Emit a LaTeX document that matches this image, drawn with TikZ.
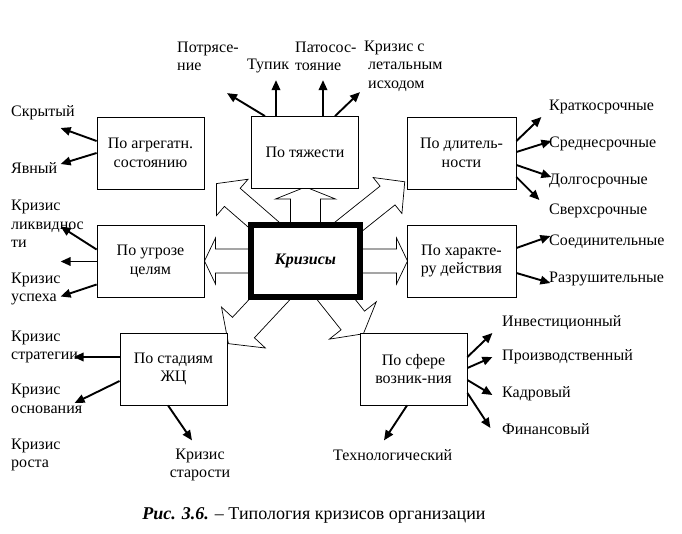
\documentclass[tikz,border=0pt]{standalone}
\usepackage{fontspec}
\setmainfont{Liberation Serif}
\usetikzlibrary{arrows.meta, positioning, calc}

\tikzset{kat/.style={draw, fill=white, line width=0.8pt, minimum width=107pt, minimum height=72pt, align=center, inner sep=1pt}}
\tikzset{lbl/.style={anchor=west, align=left, inner sep=0pt}}
\tikzset{arr/.style={line width=1.9pt, -{Triangle[length=10pt, width=8.5pt]}}}
\tikzset{blk/.style={draw, fill=white, line width=0.7pt, line join=miter}}

% big hollow arrow out of the centre: angle, tip distance, shaft, head width, head length
\newcommand{\blkarrow}[5]{%
    \begin{scope}[shift={(ctr)}, rotate=#1]
        \draw[blk] (0,-#3) -- ({#2-#5},-#3) -- ({#2-#5},-#4) -- (#2,0) -- ({#2-#5},#4) -- ({#2-#5},#3) -- (0,#3) -- cycle;
    \end{scope}}

\begin{document}
\begin{tikzpicture}[x=1pt, y=-1pt, font=\fontsize{16}{18.5}\selectfont]

    \useasboundingbox (0,0) rectangle (682,533);
    \coordinate (ctr) at (305.5,261);

    % hollow arrows
    \blkarrow{90}{74}{15}{30}{12}
    \blkarrow{180}{101}{12}{23}{11}
    \blkarrow{0}{102}{12}{23}{11}
    \blkarrow{139}{118}{12}{24}{21}
    \blkarrow{38.6}{127}{12}{23}{22}
    \blkarrow{227}{113}{15}{30}{22}
    \blkarrow{308.5}{93}{15}{30}{17}

    % boxes
    \node(agr)   [kat] at (150.5,153) {По агрегатн.\\состоянию};
    \node(tyazh) [kat] at (305,152.5) {По тяжести};
    \node(dlit)  [kat, minimum width=109pt] at (461.5,153) {По длитель-\\ности};
    \node(ugr)   [kat] at (150.5,261.5) {По угрозе\\целям};
    \node(khar)  [kat, minimum width=109pt] at (461.5,261) {По характе-\\ру действия};
    \node(stad)  [kat] at (173.5,369) {По стадиям\\ЖЦ};
    \node(sfera) [kat] at (413.5,369) {По сфере\\возник-ния};

    % centre
    \node(crisis) [draw, fill=white, line width=6pt, minimum width=109pt, minimum height=72pt] at (ctr) {\textbf{\textit{Кризисы}}};

    % top
    \node(potr)  [lbl] at (177,56.5) {Потрясе-\\ние};
    \node(tupik) [lbl] at (247,66) {Тупик};
    \node(patos) [lbl] at (295,56.5) {Патосос-\\тояние};
    \node(letal) [lbl] at (364,66) {Кризис с\\\ летальным\\\ исходом};
    \draw[arr] ([shift={(-40,0)}]tyazh.north) -- ++(-38,-23);
    \draw[arr] ([shift={(-29,0)}]tyazh.north) -- ++(0,-36);
    \draw[arr] ([shift={(18,0)}]tyazh.north) -- ++(0,-36);
    \draw[arr] ([shift={(30,0)}]tyazh.north) -- ++(25,-24);

    % left
    \node(skr)  [lbl] at (11,113) {Скрытый};
    \node(yavn) [lbl] at (11,168) {Явный};
    \draw[arr] ([shift={(0,-12)}]agr.west) -- ++(-36,-13);
    \draw[arr] (agr.west) -- ++(-36,11);

    \node(likv) [lbl] at (11,224) {Кризис\\ликвиднос\\ти};
    \node(usp)  [lbl] at (11,289) {Кризис\\успеха};
    \draw[arr] ([shift={(0,-12)}]ugr.west) -- ++(-36,-23);
    \draw[arr] (ugr.west) -- ++(-36,0);
    \draw[arr] ([shift={(0,23)}]ugr.west) -- ++(-36,12);

    % bottom left
    \node(strat) [lbl] at (11,347) {Кризис\\стратегии};
    \node(osn)   [lbl] at (11,399) {Кризис\\основания};
    \node(rost)  [lbl] at (11,455) {Кризис\\роста};
    \node(star)  [align=center, inner sep=0pt] at (200,465) {Кризис\\старости};
    \draw[arr] ([shift={(0,-12)}]stad.west) -- ++(-46,0);
    \draw[arr] ([shift={(0,12)}]stad.west) -- ++(-45,22);
    \draw[arr] ([shift={(-5.5,0)}]stad.south) -- ++(24,35);

    % right
    \node(krat)  [lbl] at (549,107) {Краткосрочные};
    \node(sredn) [lbl] at (549,144) {Среднесрочные};
    \node(dolg)  [lbl] at (549,181) {Долгосрочные};
    \node(sverh) [lbl] at (549,211) {Сверхсрочные};
    \draw[arr] ([shift={(0,-12)}]dlit.east) -- ++(25,-24);
    \draw[arr] ([shift={(0,-1)}]dlit.east) -- ++(35,-11);
    \draw[arr] ([shift={(0,12)}]dlit.east) -- ++(35,12);
    \draw[arr] ([shift={(0,24)}]dlit.east) -- ++(23,23);

    \node(soed) [lbl] at (549,242) {Соединительные};
    \node(razr) [lbl] at (549,279) {Разрушительные};
    \draw[arr] ([shift={(0,-13)}]khar.east) -- ++(34,-12);
    \draw[arr] ([shift={(0,12)}]khar.east) -- ++(34,10);

    % bottom right
    \node(invest) [lbl] at (502,323) {Инвестиционный};
    \node(proizv) [lbl] at (502,357) {Производственный};
    \node(kadr)   [lbl] at (502,394) {Кадровый};
    \node(fin)    [lbl] at (502,429) {Финансовый};
    \node(tekhn)  [lbl] at (333,455) {Технологический};
    \draw[arr] ([shift={(0,-12)}]sfera.east) -- ++(25,-24);
    \draw[arr] ([shift={(0,-1)}]sfera.east) -- ++(25,-11);
    \draw[arr] ([shift={(0,11)}]sfera.east) -- ++(25,15);
    \draw[arr] ([shift={(0,24)}]sfera.east) -- ++(23,35);
    \draw[arr] ([shift={(-6.5,0)}]sfera.south) -- ++(-23,35);

    % caption
    \node(capt) [font=\fontsize{18}{21}\selectfont] at (314,515) {\textbf{\textit{Рис. 3.6.}} – Типология кризисов организации};

\end{tikzpicture}
\end{document}
